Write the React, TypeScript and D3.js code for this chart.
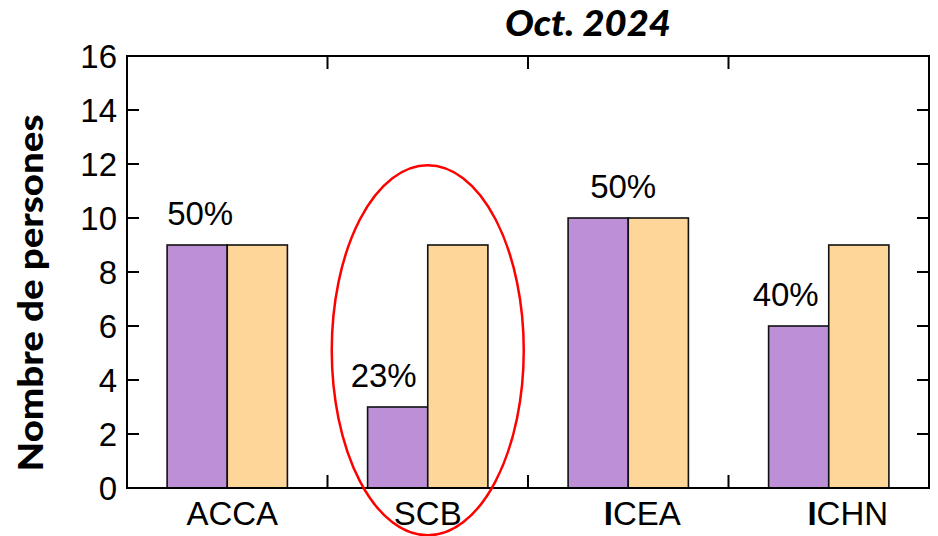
import React from "react";
import * as d3 from "d3";

const categories = ["ACCA", "SCB", "ICEA", "ICHN"];
const purpleValues = [9, 3, 10, 6];
const orangeValues = [9, 9, 10, 9];
const pctLabels = ["50%", "23%", "50%", "40%"];
const yTicks = [0, 2, 4, 6, 8, 10, 12, 14, 16];
const labelShift = [3, -14, 25, -13];
const catShift = [5, 0, 14, 19];

const W = 938;
const H = 536;
const L = 127;
const R = 929;
const T = 56;
const B = 488;

export default function App() {
  const x = d3.scaleBand<string>().domain(categories).range([L, R]).padding(0);
  const bw = x.bandwidth();
  const sub = d3
    .scaleBand<string>()
    .domain(["p", "o"])
    .range([bw * 0.2, bw * 0.8])
    .padding(0);
  const y = d3.scaleLinear().domain([0, 16]).range([B, T]);
  const font = "'Liberation Sans', Arial, sans-serif";
  const fs = 33;
  const boundaries = categories.slice(1).map((c) => x(c) as number);

  return (
    <svg
      width={W}
      height={H}
      style={{ position: "absolute", left: 0, top: 0, background: "#fff" }}
    >
      <rect x={0} y={0} width={W} height={H} fill="#fff" />
      {categories.map((c, i) => {
        const x0 = x(c) as number;
        return (
          <g key={c}>
            <rect
              x={x0 + (sub("p") as number)}
              y={y(purpleValues[i])}
              width={sub.bandwidth()}
              height={B - y(purpleValues[i])}
              fill="#BD8FD6"
              stroke="#111"
              strokeWidth={1.6}
            />
            <rect
              x={x0 + (sub("o") as number)}
              y={y(orangeValues[i])}
              width={sub.bandwidth()}
              height={B - y(orangeValues[i])}
              fill="#FFD699"
              stroke="#111"
              strokeWidth={1.6}
            />
            <text
              x={x0 + (sub("p") as number) + sub.bandwidth() / 2 + labelShift[i]}
              y={y(purpleValues[i]) - 20}
              textAnchor="middle"
              fontFamily={font}
              fontSize={fs}
              fill="#000"
            >
              {pctLabels[i]}
            </text>
            <text
              x={x0 + bw / 2 + catShift[i]}
              y={525}
              textAnchor="middle"
              fontFamily={font}
              fontSize={fs}
              fill="#000"
            >
              {c.startsWith("I") ? (
                <>
                  <tspan fontWeight="bold">I</tspan>
                  {c.slice(1)}
                </>
              ) : (
                c
              )}
            </text>
          </g>
        );
      })}
      <rect x={L} y={T} width={R - L} height={B - T} fill="none" stroke="#000" strokeWidth={2} />
      {yTicks.map((t) => (
        <g key={t}>
          <line x1={L} x2={L + 12} y1={y(t)} y2={y(t)} stroke="#000" strokeWidth={2} />
          <line x1={R} x2={R - 12} y1={y(t)} y2={y(t)} stroke="#000" strokeWidth={2} />
          <text
            x={117}
            y={y(t) + 12}
            textAnchor="end"
            fontFamily={font}
            fontSize={fs}
            fill="#000"
          >
            {t}
          </text>
        </g>
      ))}
      {boundaries.map((bx, i) => (
        <g key={i}>
          <line x1={bx} x2={bx} y1={B} y2={B - 13} stroke="#000" strokeWidth={2} />
          <line x1={bx} x2={bx} y1={T} y2={T + 13} stroke="#000" strokeWidth={2} />
        </g>
      ))}
      <ellipse
        cx={(x("SCB") as number) + bw / 2}
        cy={y(5.1)}
        rx={96}
        ry={185}
        fill="none"
        stroke="#FF0000"
        strokeWidth={2.5}
      />
      <text
        x={588}
        y={36}
        textAnchor="middle"
        fontFamily="Lato, 'Open Sans', sans-serif"
        fontWeight="900"
        fontStyle="italic"
        fontSize={36}
        textLength={166}
        lengthAdjust="spacingAndGlyphs"
        fill="#000"
      >
        Oct. 2024
      </text>
      <text
        transform={`translate(43, 293) rotate(-90)`}
        textAnchor="middle"
        fontFamily="Lato, 'Open Sans', sans-serif"
        fontWeight="900"
        fontSize={34}
        textLength={357}
        lengthAdjust="spacingAndGlyphs"
        fill="#000"
      >
        Nombre de persones
      </text>
    </svg>
  );
}
